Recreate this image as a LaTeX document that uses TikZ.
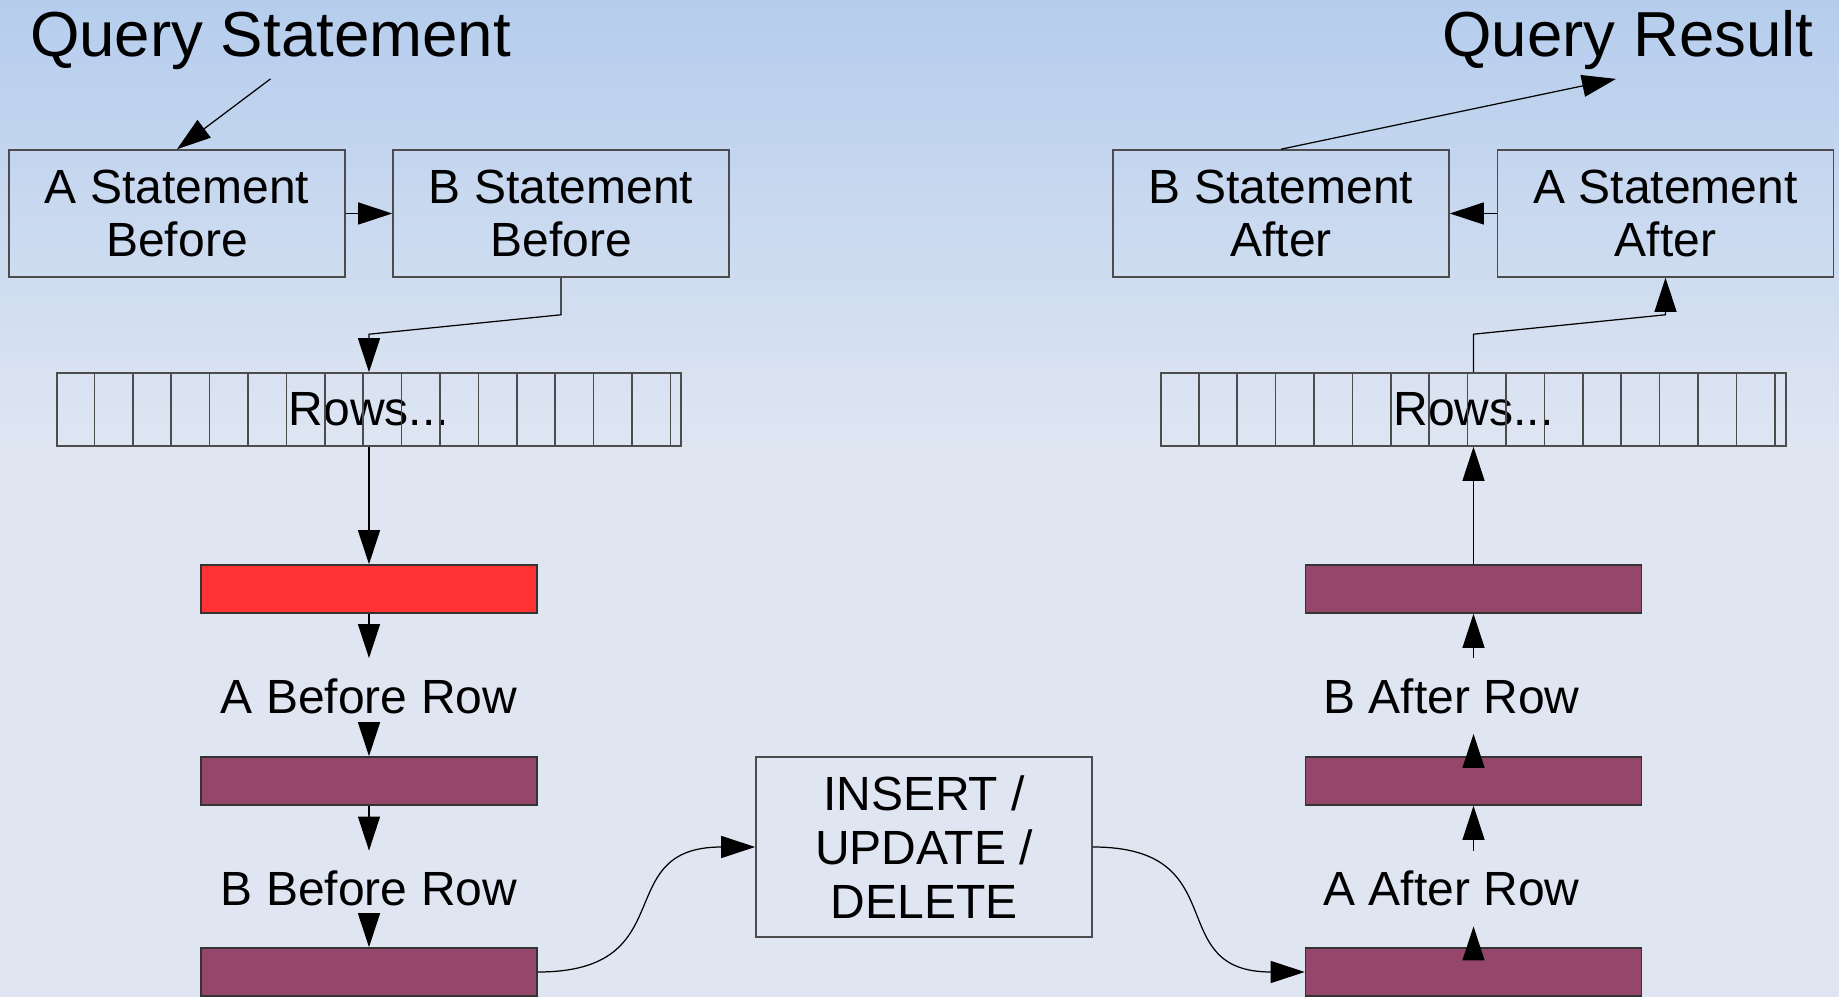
\documentclass[tikz,border=0pt]{standalone}
\usepackage{fontspec}
\setmainfont{Liberation Sans}
\usetikzlibrary{arrows.meta}

\definecolor{bgtop}{RGB}{181,205,237}
\definecolor{bgbot}{RGB}{223,230,242}
\definecolor{trigred}{RGB}{255,51,51}
\definecolor{trigpurple}{RGB}{148,71,106}

\begin{document}
\begin{tikzpicture}
		\tikzset{stmt/.style={shape = rectangle, draw = black!70, line width = 0.45pt, inner sep = 0pt, minimum width = 3.36cm, minimum height = 1.27cm, align = center, font = \fontsize{13.66pt}{15.28pt}\selectfont}}
		\tikzset{rowstrip/.style={shape = rectangle, draw = black!70, line width = 0.45pt, inner sep = 0pt, minimum width = 6.245cm, minimum height = 0.73cm, font = \fontsize{13.66pt}{15.28pt}\selectfont}}
		\tikzset{trig/.style={shape = rectangle, draw = black!80, line width = 0.45pt, fill = trigpurple, minimum width = 3.36cm, minimum height = 0.48cm, inner sep = 0pt}}
		\tikzset{rowtext/.style={inner sep = 0.2cm, text height = 0.344cm, text depth = 0pt, font = \fontsize{13.66pt}{15.28pt}\selectfont}}
		\tikzset{title/.style={inner sep = 0.08cm, anchor = base, font = \fontsize{18.1pt}{21pt}\selectfont}}
		\tikzset{cell/.style={draw = black!70, line width = 0.45pt}}
		\tikzset{conn/.style={-{Triangle[length = 0.34cm, width = 0.22cm]}, line width = 0.35pt}}
		\useasboundingbox (0, 0) rectangle (18.39, -9.97);
		%background
		\shade[top color = bgtop, bottom color = bgbot] (0, 0) rectangle (18.39, -4.5);
		\fill[bgbot] (0, -4.5) rectangle (18.39, -9.97);
		%titles
		\node[title] (qs) at (2.705, -0.57) {Query Statement};
		\node[title] (qr) at (16.28, -0.57) {Query Result};
		%statement triggers
		\node[stmt] (asb) at (1.77, -2.135) {A Statement\\Before};
		\node[stmt] (bsb) at (5.61, -2.135) {B Statement\\Before};
		\node[stmt] (bsa) at (12.81, -2.135) {B Statement\\After};
		\node[stmt] (asa) at (16.655, -2.135) {A Statement\\After};
		%rows
		\node[rowstrip] (rowsL) at (3.69, -4.095) {Rows...};
		\node[rowstrip] (rowsR) at (14.735, -4.095) {Rows...};
		\foreach \i in {1,...,16} {
			\draw[cell] ([xshift = \i*0.384cm]rowsL.north west) -- ([xshift = \i*0.384cm]rowsL.south west);
			\draw[cell] ([xshift = \i*0.384cm]rowsR.north west) -- ([xshift = \i*0.384cm]rowsR.south west);
		}
		%row triggers, before
		\node[trig, fill = trigred] (red) at (3.69, -5.89) {};
		\node[rowtext] (lblAB) at (3.69, -6.96) {A Before Row};
		\node[trig] (pb1) at (3.69, -7.81) {};
		\node[rowtext] (lblBB) at (3.69, -8.885) {B Before Row};
		\node[trig] (pb2) at (3.69, -9.72) {};
		%statement
		\node[stmt, minimum height = 1.8cm] (ins) at (9.24, -8.47) {INSERT /\\UPDATE /\\DELETE};
		%row triggers, after
		\node[trig] (pa3) at (14.735, -9.72) {};
		\node[rowtext] (lblAA) at (14.515, -8.885) {A After Row};
		\node[trig] (pa2) at (14.735, -7.81) {};
		\node[rowtext] (lblBA) at (14.515, -6.96) {B After Row};
		\node[trig] (pa1) at (14.735, -5.89) {};
		%edges
		\draw[conn] (qs.south) -- (asb.north);
		\draw[conn] (asb.east) -- (bsb.west);
		\draw[conn] (bsb.south) -- ++(0, -0.37) -- ([yshift = 0.38cm]rowsL.north) -- (rowsL.north);
		\draw[conn] (rowsL.south) -- (red.north);
		\draw[conn] (red.south) -- (lblAB.north);
		\draw[conn] (lblAB.south) -- (pb1.north);
		\draw[conn] (pb1.south) -- (lblBB.north);
		\draw[conn] (lblBB.south) -- (pb2.north);
		\draw[conn] (pb2.east) to[out = 0, in = 180, looseness = 1.5] (ins.west);
		\draw[conn] (ins.east) to[out = 0, in = 180, looseness = 1.5] (pa3.west);
		\draw[conn] (pa3.north) -- (pa3.north |- lblAA.south);
		\draw[conn] (pa2.south |- lblAA.north) -- (pa2.south);
		\draw[conn] (pa2.north) -- (pa2.north |- lblBA.south);
		\draw[conn] (pa1.south |- lblBA.north) -- (pa1.south);
		\draw[conn] (pa1.north) -- (rowsR.south);
		\draw[conn] (rowsR.north) -- ++(0, 0.38) -- ([yshift = -0.37cm]asa.south) -- (asa.south);
		\draw[conn] (asa.west) -- (bsa.east);
		\draw[conn] (bsa.north) -- ([xshift = -0.12cm]qr.south);
		
\end{tikzpicture}
\end{document}
